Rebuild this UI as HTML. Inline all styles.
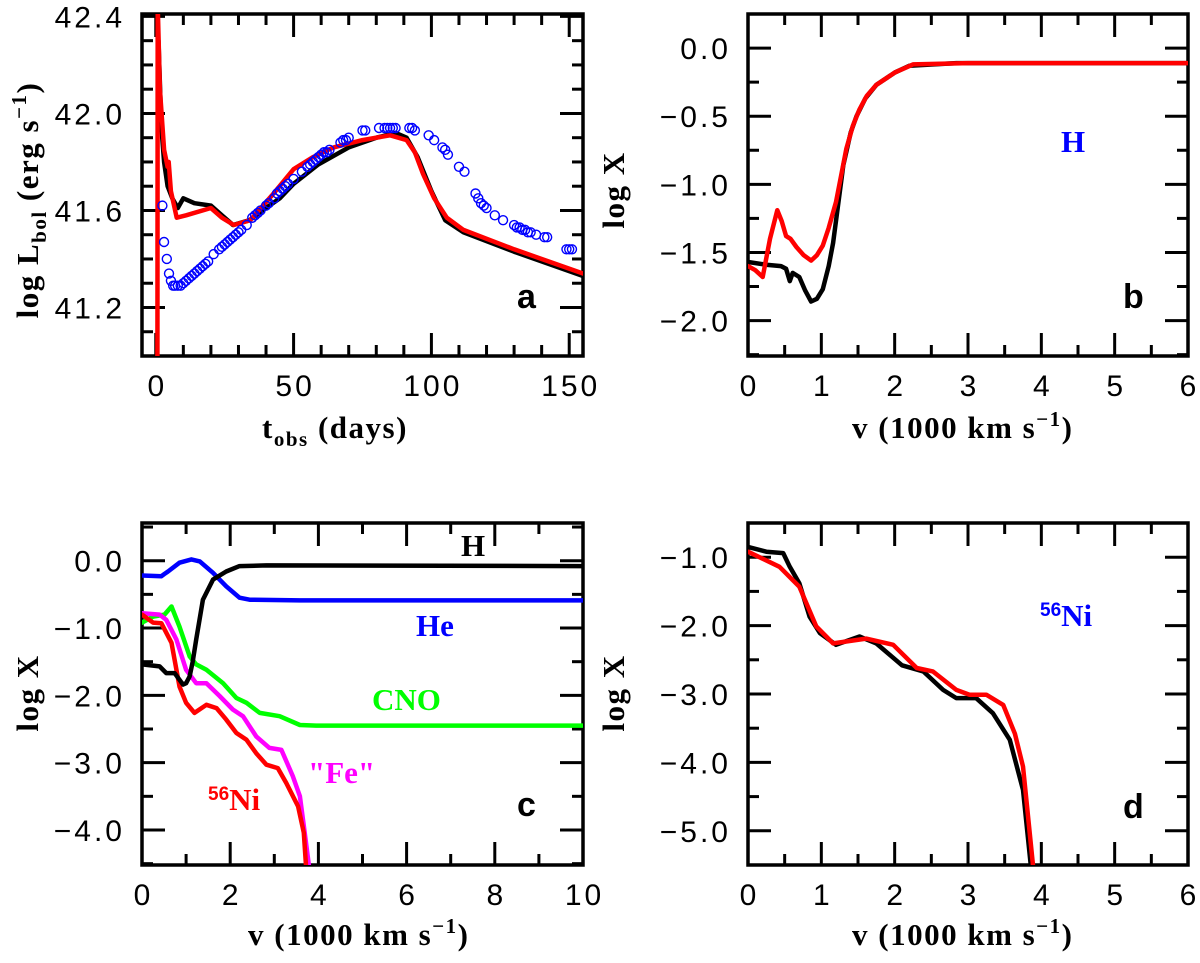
<!DOCTYPE html>
<html><head><meta charset="utf-8"><style>
body{margin:0;background:#fff}
svg{display:block}
.tk{font-family:"Liberation Sans",sans-serif;font-size:30px;fill:#000;letter-spacing:3px}
.tt{font-family:"Liberation Serif",serif;font-size:31px;font-weight:bold;fill:#000;letter-spacing:1.5px}
.lb{font-family:"Liberation Serif",serif;font-size:31px;font-weight:bold}
.pl{font-family:"Liberation Sans",sans-serif;font-size:34px;font-weight:bold;fill:#000}
</style></head><body>
<svg id="fig" width="1200" height="963" viewBox="0 0 1200 963" xmlns="http://www.w3.org/2000/svg"></svg>
<script>
// ---- Panel a data ----
const aRedT=[0.6,0.7,1.5,3,4.3,4.7,5.5,7.6,11,20,24,28.3,34.3,42,50,57,64.5,75,85,91,94,97,101,105.6,111.6,130,155];
const aRedL=[40.9,42.45,42.1,41.85,41.78,41.8,41.68,41.57,41.58,41.61,41.57,41.54,41.56,41.66,41.77,41.82,41.86,41.89,41.91,41.89,41.84,41.75,41.65,41.57,41.52,41.44,41.34];
const aBlkT=[1,2,3,4.3,6,8,10,14,20,24,28,34,40,45,50,59,70,80,87,91,95,100,105,111.6,130,155];
const aBlkL=[42.3,41.95,41.8,41.7,41.65,41.61,41.65,41.63,41.62,41.58,41.54,41.56,41.61,41.65,41.71,41.79,41.86,41.9,41.92,41.9,41.82,41.68,41.56,41.51,41.43,41.33];
const aObsT=[2.4,3,4,4.8,5.5,6.3,7,8,9,10,11,12,13,14,15,16,17,18,19,21,23,24,25,26,27,28,29,30,31,33,35,36,37,38,40,41,43,44,45,46,47,48,50,53,55,56,57,58,59,60,61,62,63,67,68,69,70,75,76,81,83,84,85,86,87,92,93,94,99,101,104,105,106,110,112,116,117,118,119,120,123,126,130,131,132,133,134,135,136,138,141,142,149,150,151];
const aObsL=[41.62,41.47,41.40,41.34,41.31,41.29,41.29,41.29,41.29,41.30,41.31,41.32,41.33,41.34,41.35,41.36,41.37,41.38,41.39,41.42,41.44,41.45,41.46,41.47,41.48,41.49,41.50,41.51,41.52,41.54,41.57,41.58,41.59,41.60,41.62,41.63,41.65,41.67,41.68,41.69,41.70,41.71,41.73,41.76,41.78,41.79,41.80,41.81,41.82,41.83,41.84,41.84,41.85,41.88,41.89,41.89,41.90,41.93,41.93,41.94,41.94,41.94,41.94,41.94,41.94,41.94,41.94,41.93,41.91,41.89,41.86,41.85,41.83,41.78,41.76,41.67,41.65,41.63,41.62,41.61,41.58,41.56,41.54,41.53,41.53,41.52,41.52,41.51,41.51,41.50,41.49,41.49,41.44,41.44,41.44];
// ---- Panel b data ----
const bBlkV=[0,0.25,0.45,0.52,0.57,0.61,0.7,0.78,0.86,0.94,1.02,1.1,1.16,1.3,1.4,1.48,1.6,1.75,2.0,2.2,2.84,6];
const bBlkX=[-1.57,-1.59,-1.6,-1.62,-1.71,-1.65,-1.68,-1.78,-1.86,-1.84,-1.77,-1.6,-1.43,-0.86,-0.62,-0.5,-0.37,-0.27,-0.18,-0.13,-0.11,-0.11];
const bRedV=[0,0.1,0.2,0.3,0.4,0.46,0.52,0.58,0.66,0.76,0.86,0.94,1.02,1.1,1.2,1.34,1.43,1.52,1.62,1.75,2.0,2.25,3,6];
const bRedX=[-1.6,-1.63,-1.68,-1.4,-1.19,-1.27,-1.38,-1.4,-1.46,-1.52,-1.56,-1.52,-1.45,-1.32,-1.13,-0.74,-0.57,-0.45,-0.35,-0.27,-0.18,-0.12,-0.11,-0.11];
// ---- Panel c data ----
const cHV=[0,0.4,0.55,0.74,0.93,1.0,1.08,1.15,1.23,1.38,1.61,1.91,2.21,2.82,10];
const cHX=[-1.54,-1.57,-1.67,-1.67,-1.84,-1.82,-1.72,-1.5,-1.17,-0.58,-0.28,-0.16,-0.08,-0.07,-0.08];
const cHeV=[0,0.44,0.5,0.59,0.85,1.12,1.31,1.61,1.91,2.21,2.44,3.58,10];
const cHeX=[-0.22,-0.23,-0.2,-0.16,-0.03,0.02,-0.01,-0.18,-0.38,-0.55,-0.58,-0.59,-0.59];
const cCnoV=[0,0.25,0.51,0.67,0.85,1.08,1.23,1.46,1.84,2.14,2.37,2.67,3.12,3.58,3.95,10];
const cCnoX=[-0.92,-0.83,-0.8,-0.68,-0.98,-1.42,-1.54,-1.62,-1.82,-2.04,-2.11,-2.26,-2.31,-2.44,-2.45,-2.45];
const cFeV=[0,0.4,0.55,0.78,1.0,1.23,1.46,1.76,2.06,2.29,2.59,2.89,3.16,3.42,3.58,3.69,3.79];
const cFeX=[-0.78,-0.8,-0.88,-1.17,-1.62,-1.82,-1.82,-2.01,-2.21,-2.31,-2.61,-2.78,-2.81,-3.2,-3.5,-4.04,-4.55];
const cNiV=[0,0.25,0.44,0.67,0.85,1.0,1.19,1.46,1.69,1.91,2.14,2.37,2.59,2.82,3.08,3.27,3.54,3.67,3.72];
const cNiX=[-0.8,-0.92,-0.93,-1.22,-1.87,-2.11,-2.26,-2.14,-2.19,-2.36,-2.56,-2.66,-2.86,-3.03,-3.08,-3.3,-3.65,-4.04,-4.55];
// ---- Panel d data ----
const dBlkV=[0,0.25,0.48,0.57,0.7,0.84,0.98,1.2,1.52,1.75,2.1,2.39,2.66,2.84,3.11,3.34,3.57,3.75,3.86];
const dBlkX=[-0.85,-0.92,-0.94,-1.14,-1.38,-1.87,-2.11,-2.28,-2.16,-2.26,-2.58,-2.67,-2.94,-3.06,-3.06,-3.28,-3.67,-4.4,-5.55];
const dRedV=[0,0.43,0.7,0.93,1.16,1.61,1.98,2.3,2.52,2.84,3.02,3.25,3.48,3.64,3.75,3.89];
const dRedX=[-0.92,-1.14,-1.43,-2.01,-2.26,-2.19,-2.28,-2.62,-2.67,-2.94,-3.01,-3.01,-3.16,-3.58,-4.06,-5.55];

const NS='http://www.w3.org/2000/svg';
const svg=document.getElementById('fig');
function mk(tag,attrs,parent){const e=document.createElementNS(NS,tag);for(const k in attrs)e.setAttribute(k,attrs[k]);(parent||svg).appendChild(e);return e;}

function panel(name,x0,x1,y0,y1,xmin,xmax,ymin,ymax,xMaj,xMin,yMaj,yMin,xFmt,yFmt){
  const g=mk('g',{});
  
  
  const sx=v=>x0+(v-xmin)/(xmax-xmin)*(x1-x0);
  const sy=v=>y1-(v-ymin)/(ymax-ymin)*(y1-y0);
  const clip='clip-'+name;
  const cp=mk('clipPath',{id:clip},g);mk('rect',{x:x0,y:y0,width:x1-x0,height:y1-y0},cp);
  const eps=1e-9;
  for(let v=Math.ceil((xmin-eps)/xMin)*xMin;v<=xmax+eps;v+=xMin){
    const isM=Math.abs(v/xMaj-Math.round(v/xMaj))<1e-6;const L=isM?23:11;const X=sx(v);
    mk('line',{x1:X,y1:y1,x2:X,y2:y1-L,stroke:'#000','stroke-width':3},g);
    mk('line',{x1:X,y1:y0,x2:X,y2:y0+L,stroke:'#000','stroke-width':3},g);
    if(isM){const t=mk('text',{x:X+1.5,y:y1+40,'text-anchor':'middle',class:'tk'},g);t.textContent=xFmt(v);
      
      }
  }
  for(let v=Math.ceil((ymin-eps)/yMin)*yMin;v<=ymax+eps;v+=yMin){
    const isM=Math.abs(v/yMaj-Math.round(v/yMaj))<1e-6;const L=isM?23:11;const Y=sy(v);
    mk('line',{x1:x0,y1:Y,x2:x0+L,y2:Y,stroke:'#000','stroke-width':3},g);
    mk('line',{x1:x1,y1:Y,x2:x1-L,y2:Y,stroke:'#000','stroke-width':3},g);
    if(isM){const t=mk('text',{x:x0-17,y:Y+11,'text-anchor':'end',class:'tk'},g);t.textContent=yFmt(v);
      
      }
  }
  const frame=mk('rect',{x:x0,y:y0,width:x1-x0,height:y1-y0,fill:'none',stroke:'#000','stroke-width':3.5},g);
  
  
  const plot=mk('g',{'clip-path':'url(#'+clip+')'},g);
  return {g,plot,sx,sy};
}
function line(p,xs,ys,color,name){
  const d=xs.map((v,i)=>(i?'L':'M')+p.sx(v).toFixed(1)+','+p.sy(ys[i]).toFixed(1)).join('');
  const e=mk('path',{d,fill:'none',stroke:color,'stroke-width':4.5,'stroke-linejoin':'round','stroke-linecap':'round'},p.plot);
  
  
}
function txt(x,y,s,cls,fill,name,parent){const t=mk('text',{x,y,class:cls,fill:fill},parent);t.innerHTML=s;
  
  return t;}

const f0=v=>String(Math.round(v));
const f1=v=>{const s=v.toFixed(1);return (s==='-0.0'?'0.0':s).replace('-','\u2212');};

// Panel a
const pa=panel('panel-a',142,583,14,356,-5,155,41.0,42.41,50,10,0.4,0.1,f0,f1);
line(pa,aBlkT,aBlkL,'#000','model-black-curve');
line(pa,aRedT,aRedL,'#f00','model-red-curve');
aObsT.forEach((t,i)=>{const c=mk('circle',{cx:pa.sx(t),cy:pa.sy(aObsL[i]),r:4.5,fill:'none',stroke:'#00f','stroke-width':1.4},pa.plot);
  
  });
txt(517,308,'a','pl','#000','panel-label-a',pa.g);
txt(262,438,'t<tspan font-size="21" dy="8">obs</tspan><tspan dy="-8"> (days)</tspan>','tt','#000','x-axis-title-a',pa.g);
const ya=txt(0,0,'log L<tspan font-size="21" dy="8">bol</tspan><tspan dy="-8"> (erg s</tspan><tspan font-size="21" dy="-12">−1</tspan><tspan dy="12">)</tspan>','tt','#000','y-axis-title-a',pa.g);
ya.setAttribute('transform','translate(38,200) rotate(-90)');ya.setAttribute('text-anchor','middle');

// Panel b
const pb=panel('panel-b',748,1188,14,356,0,6,-2.26,0.25,1,0.5,0.5,0.25,f0,f1);
line(pb,bBlkV,bBlkX,'#000','model-black-curve');
line(pb,bRedV,bRedX,'#f00','model-red-curve');
txt(1061,152,'H','lb','#00f','species-label-h',pb.g);
txt(1123,308,'b','pl','#000','panel-label-b',pb.g);
txt(852,438,'v  (1000  km s<tspan font-size="21" dy="-12">−1</tspan><tspan dy="12">)</tspan>','tt','#000','x-axis-title-b',pb.g);
const yb=txt(0,0,'log X','tt','#000','y-axis-title-b',pb.g);
yb.setAttribute('transform','translate(624,190) rotate(-90)');yb.setAttribute('text-anchor','middle');

// Panel c
const pc=panel('panel-c',142,583,523,865,0,10,-4.52,0.56,2,1,1,0.5,f0,f1);
line(pc,cHeV,cHeX,'#00f','he-curve');
line(pc,cCnoV,cCnoX,'#0f0','cno-curve');
line(pc,cFeV,cFeX,'#f0f','fe-curve');
line(pc,cNiV,cNiX,'#f00','ni56-curve');
line(pc,cHV,cHX,'#000','h-curve');
txt(461,556,'H','lb','#000','species-label-h',pc.g);
txt(416,636,'He','lb','#00f','species-label-he',pc.g);
txt(372,710,'CNO','lb','#0f0','species-label-cno',pc.g);
txt(308,783,'"Fe"','lb','#f0f','species-label-fe',pc.g);
txt(208,810,'<tspan font-size="19" dy="-10" font-family="Liberation Sans">56</tspan><tspan dy="10">Ni</tspan>','lb','#f00','species-label-ni56',pc.g);
txt(517,816,'c','pl','#000','panel-label-c',pc.g);
txt(248,945,'v  (1000  km s<tspan font-size="21" dy="-12">−1</tspan><tspan dy="12">)</tspan>','tt','#000','x-axis-title-c',pc.g);
const yc=txt(0,0,'log X','tt','#000','y-axis-title-c',pc.g);
yc.setAttribute('transform','translate(38,693) rotate(-90)');yc.setAttribute('text-anchor','middle');

// Panel d
const pd=panel('panel-d',748,1188,523,865,0,6,-5.5,-0.5,1,0.5,1,0.5,f0,f1);
line(pd,dBlkV,dBlkX,'#000','model-black-curve');
line(pd,dRedV,dRedX,'#f00','model-red-curve');
txt(1040,626,'<tspan font-size="19" dy="-10" font-family="Liberation Sans">56</tspan><tspan dy="10">Ni</tspan>','lb','#00f','species-label-ni56',pd.g);
txt(1123,818,'d','pl','#000','panel-label-d',pd.g);
txt(852,945,'v  (1000  km s<tspan font-size="21" dy="-12">−1</tspan><tspan dy="12">)</tspan>','tt','#000','x-axis-title-d',pd.g);
const yd=txt(0,0,'log X','tt','#000','y-axis-title-d',pd.g);
yd.setAttribute('transform','translate(624,693) rotate(-90)');yd.setAttribute('text-anchor','middle');
</script>
</body></html>
